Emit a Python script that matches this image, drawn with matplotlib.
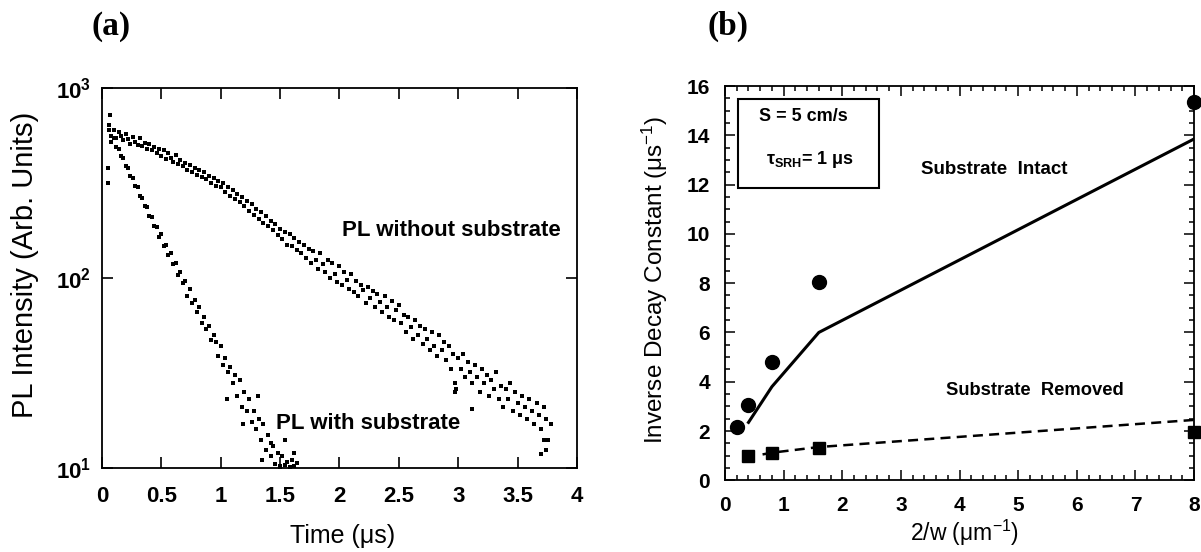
import matplotlib
matplotlib.use("Agg")
import matplotlib.pyplot as plt
from matplotlib.patches import Rectangle
from matplotlib.ticker import MultipleLocator, NullLocator

plt.rcParams['font.family'] = ['Liberation Sans', 'DejaVu Sans']
plt.rcParams['mathtext.default'] = 'regular'

# ---- panel (a): PL decay ----
T_WITHOUT = [0.06, 0.08, 0.10, 0.12, 0.14, 0.16, 0.18, 0.20, 0.22, 0.24,
             0.26, 0.28, 0.30, 0.32, 0.34, 0.36, 0.38, 0.40, 0.42, 0.44,
             0.46, 0.48, 0.50, 0.52, 0.54, 0.56, 0.58, 0.60, 0.62, 0.64,
             0.66, 0.68, 0.70, 0.72, 0.74, 0.76, 0.78, 0.80, 0.82, 0.84,
             0.86, 0.88, 0.90, 0.92, 0.94, 0.96, 0.98, 1.00, 1.02, 1.04,
             1.06, 1.08, 1.10, 1.12, 1.14, 1.16, 1.18, 1.20, 1.22, 1.24,
             1.26, 1.28, 1.30, 1.32, 1.34, 1.36, 1.38, 1.40, 1.42, 1.44,
             1.46, 1.48, 1.50, 1.52, 1.54, 1.56, 1.58, 1.60, 1.62, 1.64,
             1.66, 1.68, 1.70, 1.72, 1.74, 1.76, 1.78, 1.80, 1.82, 1.84,
             1.86, 1.88, 1.90, 1.92, 1.94, 1.96, 1.98, 2.00, 2.02, 2.04,
             2.06, 2.08, 2.10, 2.12, 2.14, 2.16, 2.18, 2.20, 2.22, 2.24,
             2.26, 2.28, 2.30, 2.32, 2.34, 2.36, 2.38, 2.40, 2.42, 2.44,
             2.46, 2.48, 2.50, 2.52, 2.54, 2.56, 2.58, 2.60, 2.62, 2.64,
             2.66, 2.68, 2.70, 2.72, 2.74, 2.76, 2.78, 2.80, 2.82, 2.84,
             2.86, 2.88, 2.90, 2.92, 2.94, 2.96, 2.98, 3.00, 3.02, 3.04,
             3.06, 3.08, 3.10, 3.12, 3.14, 3.16, 3.18, 3.20, 3.22, 3.24,
             3.26, 3.28, 3.30, 3.32, 3.34, 3.36, 3.38, 3.40, 3.42, 3.44,
             3.46, 3.48, 3.50, 3.52, 3.54, 3.56, 3.58, 3.60, 3.62, 3.64,
             3.66, 3.68, 3.70, 3.72, 3.74, 3.76, 3.78,
             0.07, 2.97, 2.97, 3.12, 3.72, 3.70, 3.74]
I_WITHOUT = [640, 560, 600, 545, 590, 560, 530, 575, 540, 510,
             555, 520, 500, 545, 495, 515, 480, 505, 470, 490,
             455, 480, 440, 470, 425, 455, 430, 410, 445, 400,
             420, 390, 405, 370, 395, 360, 380, 350, 372, 340,
             362, 330, 345, 315, 335, 305, 325, 300, 318, 285,
             300, 270, 290, 262, 278, 250, 268, 240, 255, 225,
             245, 215, 232, 205, 222, 195, 212, 188, 200, 178,
             192, 168, 182, 160, 175, 150, 170, 148, 162, 140,
             155, 135, 150, 128, 142, 120, 138, 125, 112, 135,
             118, 108, 125, 100, 120, 105, 95, 115, 92, 108,
             98, 88, 105, 84, 96, 80, 92, 86, 74, 90,
             78, 85, 70, 82, 75, 66, 80, 70, 62, 76,
             60, 68, 72, 58, 64, 52, 62, 55, 48, 60,
             50, 56, 45, 54, 48, 42, 52, 44, 39, 50,
             42, 46, 37, 44, 33, 40, 26, 38, 33, 40,
             30, 36, 32, 28, 35, 30, 25, 33, 28, 31,
             24, 29, 26, 32, 23, 27, 21, 26, 23, 28,
             20, 25, 22, 19, 24, 21, 18, 23, 20, 17,
             22, 19, 16, 21, 18, 14, 17,
             720, 28, 25, 20.5, 14, 11.8, 12.5]

T_WITH = [0.06, 0.08, 0.10, 0.12, 0.14, 0.16, 0.18, 0.20, 0.22, 0.24,
          0.26, 0.28, 0.30, 0.32, 0.34, 0.36, 0.38, 0.40, 0.42, 0.44,
          0.46, 0.48, 0.50, 0.52, 0.54, 0.56, 0.58, 0.60, 0.62, 0.64,
          0.66, 0.68, 0.70, 0.72, 0.74, 0.76, 0.78, 0.80, 0.82, 0.84,
          0.86, 0.88, 0.90, 0.92, 0.94, 0.96, 0.98, 1.00, 1.02, 1.04,
          1.06, 1.08, 1.10, 1.12, 1.14, 1.16, 1.18, 1.20, 1.22, 1.24,
          1.26, 1.28, 1.30, 1.32, 1.34, 1.36, 1.38, 1.40, 1.42, 1.44,
          1.46, 1.48, 1.50, 1.52, 1.54, 1.56, 1.58, 1.60, 1.62, 1.64,
          0.05, 0.05, 1.05, 1.31, 1.54, 1.62, 1.19, 1.42, 1.35, 1.50, 1.58]
I_WITH = [600, 520, 545, 490, 480, 440, 430, 390, 380, 345,
          335, 305, 300, 270, 265, 240, 235, 212, 210, 188,
          186, 165, 170, 148, 150, 132, 135, 118, 120, 104,
          108, 94, 96, 80, 88, 74, 77, 66, 70, 58,
          62, 54, 56, 47, 50, 46, 39, 44, 35, 38,
          32, 34, 28, 31, 24, 29, 21, 25, 20, 23,
          17.5, 20, 16, 18, 14, 17, 12.5, 15, 11.5, 13,
          10.5, 12, 10.2, 11.5, 10.4, 10.8, 10.1, 11, 10.3, 10.6,
          380, 316, 23, 24, 14, 12, 17, 13.5, 11, 9.9, 10.0]

# ---- panel (b): inverse decay constant vs 2/w ----
X_INTACT = [0.2, 0.4, 0.8, 1.6, 8.0]
Y_INTACT = [2.15, 3.05, 4.8, 8.05, 15.35]
X_REMOVED = [0.4, 0.8, 1.6, 8.0]
Y_REMOVED = [0.97, 1.12, 1.32, 1.94]
X_FIT_INTACT = [0.4, 0.8, 1.6, 8.0]
Y_FIT_INTACT = [2.35, 3.8, 6.0, 13.85]
X_FIT_REMOVED = [0.64, 0.8, 1.6, 8.0]
Y_FIT_REMOVED = [1.05, 1.12, 1.35, 2.45]

fig = plt.figure(figsize=(12.01, 5.52), dpi=100)

# ---------------- (a) ----------------
ax = fig.add_axes([0.0849, 0.1522, 0.3955, 0.6884])
ax.scatter(T_WITHOUT, I_WITHOUT, s=11, c='k', marker='s', linewidths=0)
ax.scatter(T_WITH, I_WITH, s=11, c='k', marker='s', linewidths=0)
ax.set_yscale('log')
ax.set_xlim(0, 4)
ax.set_ylim(10, 1000)
ax.set_xticks([0, 0.5, 1, 1.5, 2, 2.5, 3, 3.5, 4],
              labels=['0', '0.5', '1', '1.5', '2', '2.5', '3', '3.5', '4'])
ax.set_yticks([10, 100, 1000], labels=['10$^{1}$', '10$^{2}$', '10$^{3}$'])
ax.yaxis.set_minor_locator(NullLocator())
ax.tick_params(which='major', direction='in', top=True, right=True,
               length=8, width=1.2, labelsize=16)
ax.tick_params(axis='x', pad=13)
ax.tick_params(axis='y', pad=8)
for lab in ax.get_xticklabels() + ax.get_yticklabels():
    lab.set_fontweight('bold')
for sp in ax.spines.values():
    sp.set_linewidth(1.3)
ax.set_xlabel('Time (μs)', fontsize=18)
ax.set_ylabel('PL Intensity (Arb. Units)', fontsize=21)
ax.xaxis.set_label_coords(0.507, -0.148)
ax.yaxis.set_label_coords(-0.133, 0.534)
ax.text(2.94, 177, 'PL without substrate', fontsize=16, fontweight='bold',
        ha='center', va='center')
ax.text(2.24, 17.1, 'PL with substrate', fontsize=16, fontweight='bold',
        ha='center', va='center')

# ---------------- (b) ----------------
bx = fig.add_axes([0.6037, 0.1299, 0.3905, 0.7143])
bx.plot(X_FIT_INTACT, Y_FIT_INTACT, color='k', lw=2.2)
bx.plot(X_FIT_REMOVED, Y_FIT_REMOVED, color='k', lw=1.8, ls='--', dashes=(4, 2.5))
bx.plot(X_INTACT, Y_INTACT, 'o', color='k', ms=10, clip_on=False)
bx.plot(X_REMOVED, Y_REMOVED, 's', color='k', ms=9, clip_on=False)
bx.set_xlim(0, 8)
bx.set_ylim(0, 16)
bx.xaxis.set_major_locator(MultipleLocator(1))
bx.xaxis.set_minor_locator(MultipleLocator(0.2))
bx.yaxis.set_major_locator(MultipleLocator(2))
bx.yaxis.set_minor_locator(MultipleLocator(0.5))
bx.tick_params(which='both', direction='in', top=True, right=True, width=1.1)
bx.tick_params(which='major', length=7, labelsize=15, pad=11)
bx.tick_params(which='minor', length=3.5)
for lab in bx.get_xticklabels() + bx.get_yticklabels():
    lab.set_fontweight('bold')
for sp in bx.spines.values():
    sp.set_linewidth(1.3)
bx.set_ylabel('Inverse Decay Constant (μs$^{-1}$)', fontsize=17.5)
bx.set_xlabel('2/w (μm$^{-1}$)', fontsize=16.5)
bx.yaxis.set_label_coords(-0.118, 0.508)
bx.xaxis.set_label_coords(0.51, -0.095)

bx.add_patch(Rectangle((0.22, 11.85), 2.4, 3.64, fill=False, ec='k', lw=1.5))
bx.text(1.34, 14.78, 'S = 5 cm/s', fontsize=13, fontweight='bold',
        ha='center', va='center')
bx.text(1.45, 13.0, 'τ$_{SRH}$= 1 μs', fontsize=13, fontweight='bold',
        ha='center', va='center')
bx.text(4.6, 12.63, 'Substrate  Intact', fontsize=13.5, fontweight='bold',
        ha='center', va='center')
bx.text(5.29, 3.63, 'Substrate  Removed', fontsize=13.2, fontweight='bold',
        ha='center', va='center')

fig.text(111 / 1201, 1 - 26 / 552, '(a)', fontfamily='Liberation Serif',
         fontweight='bold', fontsize=24, ha='center', va='center')
fig.text(728 / 1201, 1 - 26 / 552, '(b)', fontfamily='Liberation Serif',
         fontweight='bold', fontsize=24, ha='center', va='center')

fig.savefig('out.png', dpi=100)
